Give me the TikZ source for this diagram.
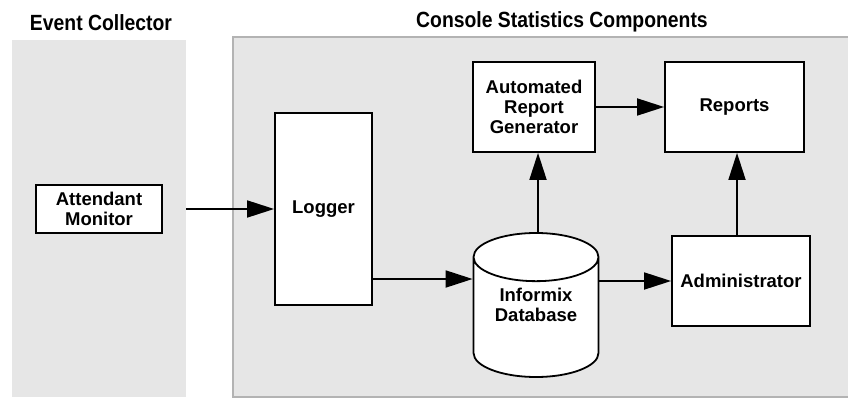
\documentclass[tikz,border=0pt]{standalone}
\usepackage{fontspec}
\setmainfont{Liberation Sans}
\newfontfamily\headfont[FakeStretch=0.88]{Liberation Sans Bold}
\usetikzlibrary{arrows.meta,shapes.geometric}
\definecolor{panelgray}{HTML}{E6E6E6}
\definecolor{rimgray}{HTML}{B3B3B3}
\begin{document}
\begin{tikzpicture}[x=1pt,y=-1pt,
blk/.style={draw,line width=1.8pt,fill=white,inner sep=0pt,align=center,font=\bfseries\fontsize{18.5}{20}\selectfont},
arr/.style={line width=1.8pt,-{Triangle[length=27pt,width=17pt]}},
head/.style={font=\headfont\fontsize{22}{24}\selectfont}]
\useasboundingbox(0,0)rectangle(848,398);
\node(collector)[fill=panelgray,inner sep=0pt,minimum width=174pt,minimum height=357pt]at(99,218.5){};
\draw[rimgray,fill=panelgray,line width=1.3pt](233,37)rectangle(870,397);
\node(collectortitle)[head]at(101,23){Event Collector};
\node(statstitle)[head]at(562,22){Console Statistics Components};
\node(monitor)[blk,minimum width=126pt,minimum height=48pt]at(99,209){Attendant\\Monitor};
\node(logger)[blk,minimum width=97pt,minimum height=192pt]at(323.5,209){Logger};
\node(generator)[blk,minimum width=122pt,minimum height=90pt]at(534,107){Automated\\Report\\Generator};
\node(reports)[blk,minimum width=139pt,minimum height=90pt]at(734.5,107){Reports};
\node(db)[blk,cylinder,shape border rotate=90,aspect=0.56,text width=86pt,minimum width=125pt,minimum height=144pt,anchor=shape center]at(536,305){};
\node(dbtext)[blk,draw=none,fill=none]at(db.shape center){Informix\\Database};
\node(admin)[blk,minimum width=138pt,minimum height=90pt]at(741,281){Administrator};
\draw[arr](collector.east|-monitor)--(logger);
\draw[arr]([yshift=-70pt]logger.east)--([yshift=-70pt]logger.east-|db.west);
\draw[arr](db.east|-admin)--(admin);
\draw[arr]([xshift=2pt]db.top)--([xshift=2pt]db.top|-generator.south);
\draw[arr](generator)--(reports);
\draw[arr]([xshift=-4pt]admin.north)--([xshift=-4pt]admin.north|-reports.south);
\end{tikzpicture}
\end{document}
